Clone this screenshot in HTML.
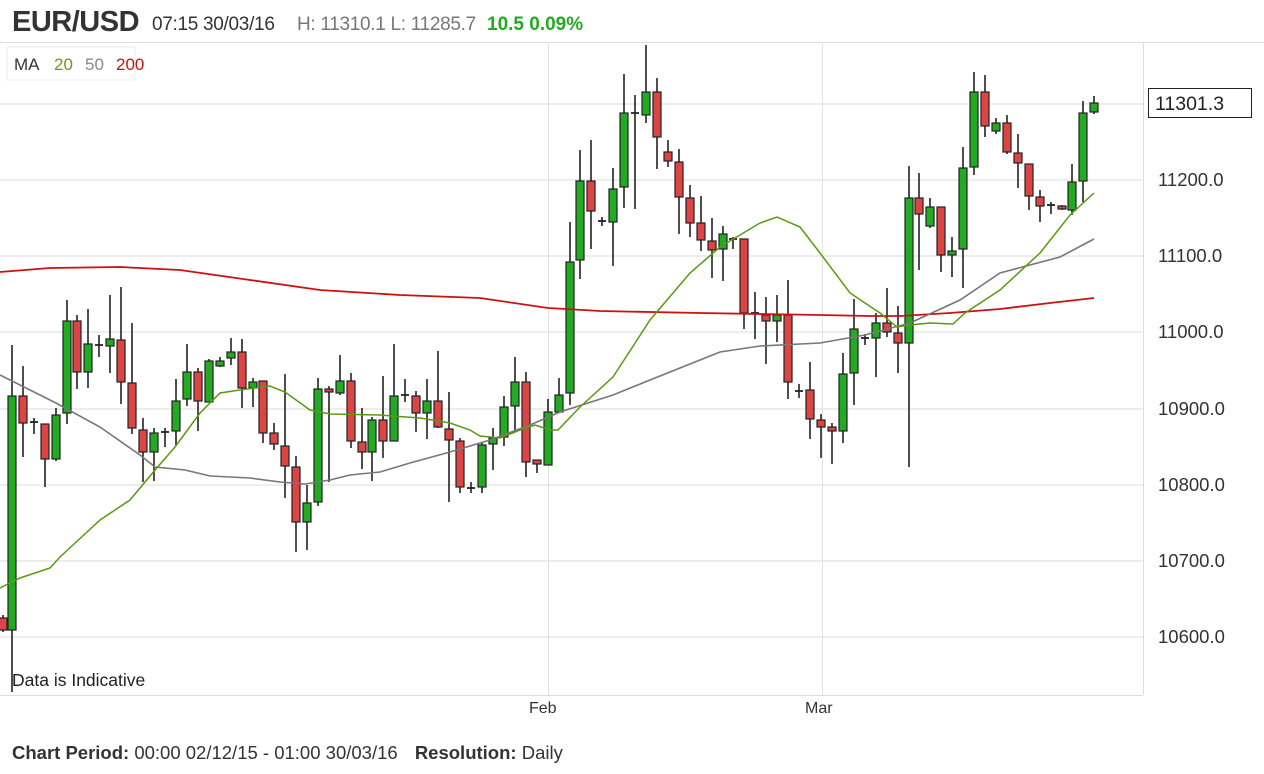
<!DOCTYPE html>
<html><head><meta charset="utf-8"><style>
body{margin:0;background:#fff;width:1264px;height:774px;overflow:hidden;font-family:"Liberation Sans",sans-serif}
svg{position:absolute;left:0;top:0}
</style></head><body>
<svg id="s" width="1264" height="774" xmlns="http://www.w3.org/2000/svg">
<text x="12" y="31" font-size="29" font-weight="bold" fill="#333" letter-spacing="-0.5">EUR/USD</text>
<text x="152" y="30" font-size="19" fill="#333" letter-spacing="-0.3">07:15 30/03/16</text>
<text x="297" y="30" font-size="19" fill="#777" letter-spacing="-0.3">H: 11310.1 L: 11285.7</text>
<text x="487" y="30" font-size="19" font-weight="bold" fill="#22aa22">10.5 0.09%</text>
<line x1="0" y1="42.5" x2="1264" y2="42.5" stroke="#ddd"/>
<g id="grid" stroke="#e2e2e2" stroke-width="1.2"></g>
<line x1="1143.5" y1="43" x2="1143.5" y2="695" stroke="#ddd"/>
<line x1="548.5" y1="43" x2="548.5" y2="695" stroke="#e2e2e2"/>
<line x1="822.5" y1="43" x2="822.5" y2="695" stroke="#e2e2e2"/>
<line x1="0" y1="695.5" x2="1143" y2="695.5" stroke="#ddd"/>
<rect x="7" y="47" width="128" height="33" fill="#fff" stroke="#eee"/>
<text x="14" y="70" font-size="17" fill="#333">MA</text>
<text x="54" y="70" font-size="17" fill="#6a9a1a">20</text>
<text x="85" y="70" font-size="17" fill="#888">50</text>
<text x="116" y="70" font-size="17" fill="#cc1111">200</text>
<g id="c"></g>
<polyline fill="none" stroke="#cc1111" stroke-width="1.8" points="0,272 50,268 120,267 180,270 250,280 320,290 400,295 480,298 548,308 600,311 700,313 820,315 870,316 900,316 950,313 1000,309 1050,303 1094,298"/>
<polyline fill="none" stroke="#777" stroke-width="1.6" points="0,375 56,403 100,427 140,455 155,467 185,470 210,476 250,478 280,482 305,484 330,480 350,475 380,472 410,463 450,452 490,440 530,425 560,412 613,395 650,380 690,364 720,352 760,346 820,343 865,335 910,323 960,300 1000,273 1060,257 1094,239"/>
<polyline fill="none" stroke="#5a9a10" stroke-width="1.5" points="0,588 20,578 50,568 60,557 100,520 130,500 155,470 175,447 200,413 220,393 240,390 270,386 285,392 310,410 330,414 380,415 420,418 450,423 470,430 480,436 500,438 520,430 535,425 550,430 558,430 580,407 613,377 650,320 690,273 720,247 760,223 777,217 800,227 820,253 850,293 880,313 897,327 910,325 930,323 953,324 965,313 1000,290 1040,253 1070,215 1094,193"/>
<g font-size="18.5" fill="#333">
<text x="1158" y="186">11200.0</text><text x="1158" y="262">11100.0</text><text x="1158" y="338">11000.0</text>
<text x="1158" y="415">10900.0</text><text x="1158" y="491">10800.0</text><text x="1158" y="567">10700.0</text><text x="1158" y="643">10600.0</text>
</g>
<rect x="1148.5" y="88.5" width="103" height="29" fill="#fff" stroke="#222"/>
<text x="1155" y="110" font-size="19.5" fill="#222">11301.3</text>
<text x="12" y="686" font-size="17.5" fill="#222">Data is Indicative</text>
<text x="529" y="713" font-size="16" fill="#333">Feb</text>
<text x="805" y="713" font-size="16" fill="#333">Mar</text>
<text x="12" y="759" font-size="18.5" fill="#333"><tspan font-weight="bold">Chart Period:</tspan> 00:00 02/12/15 - 01:00 30/03/16   <tspan font-weight="bold" dx="12">Resolution:</tspan> Daily</text>
</svg>
<script>
var g=document.getElementById('grid'),h='';
[104,180,256,332,409,485,561,637].forEach(function(y){h+='<line x1="0" y1="'+y+'" x2="1143" y2="'+y+'"/>';});
g.innerHTML=h;
var C=[[3,615,632,618,630,'r'],[12,345,692,396,630,'g'],[23,366,457,396,423,'r'],[34,418,434,422,422,'x'],[45,424,487,424,459,'r'],[56,408,461,415,459,'g'],
[67,300,424,321,413,'g'],[77,315,389,321,372,'r'],[88,309,388,344,372,'g'],[99,335,357,345,345,'x'],[110,295,373,339,346,'g'],[121,287,404,340,382,'r'],
[132,323,434,383,428,'r'],[143,418,482,430,452,'r'],[154,428,481,433,452,'g'],[165,428,447,432,432,'x'],[176,379,446,401,431,'g'],[187,344,406,372,399,'g'],
[198,368,431,372,401,'r'],[209,359,402,361,402,'g'],[220,357,367,361,366,'g'],[231,338,365,352,358,'g'],[242,339,408,352,388,'r'],[253,378,407,382,388,'g'],
[263,381,443,381,433,'r'],[274,423,450,433,444,'r'],[285,374,498,446,466,'r'],[296,456,552,467,522,'r'],[307,485,550,503,522,'g'],[318,378,506,389,502,'g'],
[329,386,482,389,392,'r'],[340,355,395,381,393,'g'],[351,373,448,381,441,'r'],[362,408,469,442,452,'r'],[372,417,481,420,452,'g'],[383,376,458,420,441,'r'],
[394,344,441,396,441,'g'],[405,379,402,395,395,'x'],[416,391,432,396,413,'r'],[427,379,439,401,413,'g'],[438,351,428,401,427,'r'],[449,392,502,429,440,'r'],
[460,438,493,441,487,'r'],[471,482,493,488,488,'x'],[482,442,493,445,487,'g'],[493,428,470,438,444,'g'],[504,396,446,407,437,'g'],[515,357,431,382,406,'g'],
[526,372,477,382,462,'r'],[537,460,473,460,464,'r'],[548,399,465,412,465,'g'],[559,378,412,395,412,'g'],[570,222,405,262,393,'g'],[580,150,279,181,260,'g'],
[591,140,249,181,211,'r'],[602,217,226,221,221,'x'],[613,168,266,189,222,'g'],[624,74,208,113,187,'g'],[635,95,209,113,113,'x'],[646,45,123,92,115,'g'],
[657,78,169,92,137,'r'],[668,140,167,152,161,'r'],[679,149,234,162,197,'r'],[690,185,237,198,223,'r'],[701,196,251,223,240,'r'],[712,218,278,241,250,'r'],
[723,226,281,234,249,'g'],[733,237,249,239,239,'x'],[744,239,329,239,313,'r'],[755,292,339,313,313,'x'],[766,297,364,315,321,'r'],[777,295,342,315,321,'g'],
[788,280,399,315,382,'r'],[799,384,398,391,391,'x'],[810,362,439,390,419,'r'],[821,414,458,420,427,'r'],[832,423,464,427,431,'r'],[843,353,443,374,431,'g'],
[854,299,405,329,373,'g'],[865,334,345,338,338,'x'],[876,313,377,323,338,'g'],[887,288,337,323,332,'r'],[898,306,373,333,343,'r'],[909,166,467,198,343,'g'],
[919,173,270,198,214,'r'],[930,198,228,207,226,'g'],[941,207,272,207,255,'r'],[952,237,277,251,255,'g'],[963,147,288,168,249,'g'],[974,72,175,92,167,'g'],
[985,75,137,92,126,'r'],[996,118,134,123,131,'g'],[1007,115,154,123,152,'r'],[1018,134,188,153,163,'r'],[1029,164,210,164,196,'r'],[1040,190,222,197,206,'r'],
[1051,202,214,205,205,'x'],[1062,205,210,206,209,'r'],[1072,164,215,182,210,'g'],[1083,101,202,113,181,'g'],[1094,96,114,103,112,'g']];
var s='';
C.forEach(function(c){
 var x=c[0];
 s+='<line x1="'+x+'" y1="'+c[1]+'" x2="'+x+'" y2="'+c[2]+'" stroke="#222" stroke-width="1.6"/>';
 if(c[5]=='x'){s+='<line x1="'+(x-4)+'" y1="'+c[3]+'" x2="'+(x+4)+'" y2="'+c[3]+'" stroke="#222" stroke-width="1.8"/>';}
 else{var hh=Math.max(c[4]-c[3],3);s+='<rect x="'+(x-4)+'" y="'+c[3]+'" width="8" height="'+hh+'" fill="'+(c[5]=='g'?'#22aa22':'#dd4444')+'" stroke="#222" stroke-width="1.2"/>';}
});
document.getElementById('c').innerHTML=s;
</script>
</body></html>
